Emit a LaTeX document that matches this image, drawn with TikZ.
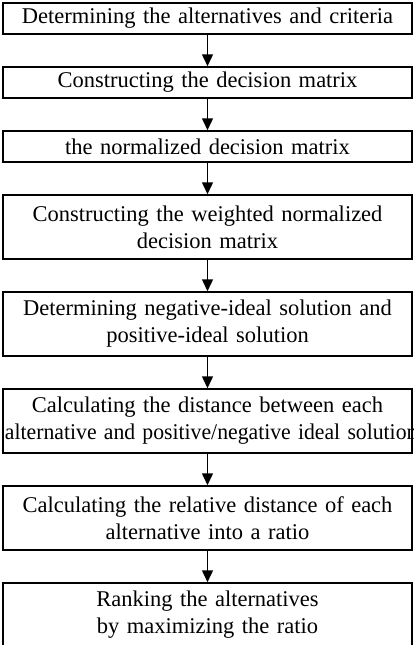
\documentclass[tikz,border=0pt]{standalone}
\usepackage{fontspec}
\usepackage{graphicx}
\setmainfont{Liberation Serif}
\usetikzlibrary{positioning,arrows.meta}
\begin{document}
\begin{tikzpicture}[x=1pt,y=1pt,
        stepbox/.style={draw,line width=1.5pt,minimum width=409pt,text width=405pt,
          align=center,inner xsep=2pt,inner ysep=0pt,font=\fontsize{22.5}{27}\selectfont},
        onebox/.style={stepbox,minimum height=31pt},
        twobox/.style={stepbox,minimum height=64pt},
        flow/.style={line width=1.5pt,-{Triangle[width=11pt,length=12pt]}},
        node distance=31.5pt]
        \useasboundingbox (0,0) rectangle (414,-645);

        \node[onebox,below] (alt) at (207.5,-2.25) {Determining the alternatives and criteria};
        \node[onebox,below=of alt] (dec) {Constructing the decision matrix};
        \node[onebox,below=of dec] (norm) {the normalized decision matrix};
        \node[twobox,below=of norm] (wnorm) {Constructing the weighted normalized\\decision matrix};
        \node[twobox,below=of wnorm] (ideal) {Determining negative-ideal solution and\\positive-ideal solution};
        \node[twobox,below=of ideal] (dist) {Calculating the distance between each\\
          \makebox[\linewidth][l]{\scalebox{0.965}[1]{alternative and positive/negative ideal solution}}};
        \node[twobox,below=of dist] (ratio) {Calculating the relative distance of each\\alternative into a ratio};
        \node[twobox,below=of ratio] (rank) {Ranking the alternatives\\by maximizing the ratio};

        \draw[flow] (alt) -- (dec);
        \draw[flow] (dec) -- (norm);
        \draw[flow] (norm) -- (wnorm);
        \draw[flow] (wnorm) -- (ideal);
        \draw[flow] (ideal) -- (dist);
        \draw[flow] (dist) -- (ratio);
        \draw[flow] (ratio) -- (rank);
\end{tikzpicture}
\end{document}
